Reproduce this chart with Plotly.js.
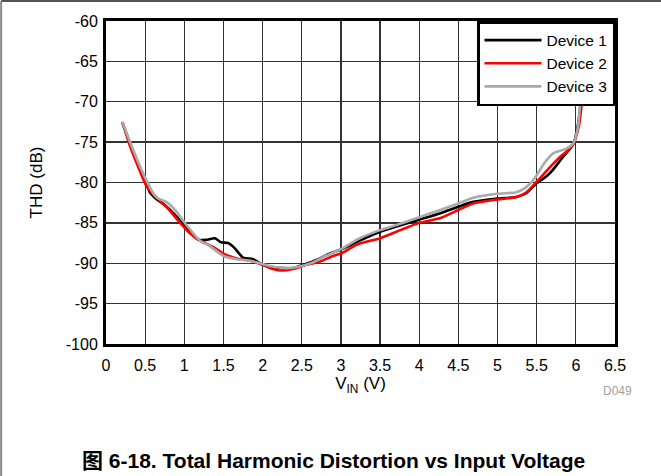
<!DOCTYPE html>
<html>
<head>
<meta charset="utf-8">
<script src="https://cdn.plot.ly/plotly-3.0.1.min.js"></script>
<style>
  html, body { margin: 0; padding: 0; background: #fff; }
  #chart { width: 661px; height: 476px; }
</style>
</head>
<body>
<div id="chart"></div>
<script>
// THD versus input voltage for three devices
const seriesNames = ['Device 1', 'Device 2', 'Device 3'];

const vin1 = [0.21, 0.3, 0.4, 0.5, 0.56, 0.64, 0.75, 0.9, 1.03, 1.18, 1.28, 1.39, 1.47, 1.56, 1.64, 1.75, 1.88, 2.0, 2.13, 2.26, 2.39, 2.52, 2.69, 2.86, 3.0, 3.24, 3.5, 3.76, 4.0, 4.27, 4.5, 4.69, 5.0, 5.24, 5.37, 5.5, 5.63, 5.71, 5.83, 5.91, 5.97, 6.03, 6.06, 6.1];
const thd1 = [-72.6, -75.0, -77.5, -79.7, -81.2, -82.0, -82.8, -84.2, -85.7, -87.1, -87.1, -86.9, -87.4, -87.5, -88.1, -89.3, -89.5, -90.2, -90.5, -90.6, -90.6, -90.2, -89.6, -88.8, -88.3, -87.2, -86.1, -85.3, -84.6, -83.8, -83.0, -82.4, -82.0, -81.8, -81.3, -80.1, -79.2, -78.4, -76.9, -76.0, -75.2, -72.7, -70.3, -66.0];

const vin2 = [0.21, 0.3, 0.4, 0.52, 0.64, 0.77, 0.92, 1.05, 1.2, 1.37, 1.5, 1.67, 1.84, 2.0, 2.13, 2.24, 2.39, 2.56, 2.73, 2.9, 3.0, 3.2, 3.5, 3.76, 4.0, 4.27, 4.5, 4.69, 5.0, 5.24, 5.37, 5.5, 5.67, 5.79, 5.9, 5.97, 6.04, 6.07, 6.11];
const thd2 = [-72.5, -75.3, -77.8, -80.5, -81.8, -83.0, -84.7, -86.1, -87.2, -88.0, -88.8, -89.4, -89.7, -90.2, -90.7, -90.9, -90.7, -90.2, -89.8, -89.1, -88.8, -87.7, -86.9, -85.9, -85.0, -84.4, -83.4, -82.6, -82.1, -81.8, -81.2, -79.9, -78.1, -76.9, -76.0, -75.2, -72.9, -70.7, -66.0];

const vin3 = [0.21, 0.3, 0.4, 0.5, 0.62, 0.67, 0.77, 0.9, 1.03, 1.2, 1.33, 1.5, 1.67, 1.84, 2.0, 2.13, 2.3, 2.47, 2.64, 2.8, 2.99, 3.24, 3.5, 3.76, 4.0, 4.27, 4.5, 4.69, 5.0, 5.24, 5.35, 5.44, 5.5, 5.59, 5.71, 5.88, 5.97, 6.03, 6.05, 6.09];
const thd3 = [-72.5, -74.8, -77.2, -79.4, -81.6, -82.0, -82.4, -83.6, -85.3, -87.2, -87.9, -89.1, -89.5, -89.7, -90.1, -90.4, -90.6, -90.4, -89.9, -89.1, -88.3, -86.9, -85.9, -85.1, -84.3, -83.4, -82.6, -81.9, -81.4, -81.2, -80.7, -79.9, -79.1, -77.7, -76.4, -75.8, -75.1, -72.9, -70.7, -66.0];

const xTickVals = [0, 0.5, 1, 1.5, 2, 2.5, 3, 3.5, 4, 4.5, 5, 5.5, 6, 6.5];
const xTickText = ['0', '0.5', '1', '1.5', '2', '2.5', '3', '3.5', '4', '4.5', '5', '5.5', '6', '6.5'];
const yTickVals = [-100, -95, -90, -85, -80, -75, -70, -65, -60];
const yTickText = ['-100', '-95', '-90', '-85', '-80', '-75', '-70', '-65', '-60'];

const colors = ['#000000', '#ff0000', '#aaaaaa'];
const xs = [vin1, vin2, vin3];
const ys = [thd1, thd2, thd3];

const FONT = 'Liberation Sans, Arial, sans-serif';

const traces = seriesNames.map((name, i) => ({
  type: 'scatter',
  mode: 'lines',
  name: name,
  x: xs[i],
  y: ys[i],
  line: { color: colors[i], width: 2.6, shape: 'spline', smoothing: 0.6 }
}));

const gridColor = '#333333';

const layout = {
  width: 661,
  height: 476,
  margin: { l: 106, r: 46, t: 21, b: 132 },
  paper_bgcolor: '#ffffff',
  plot_bgcolor: '#ffffff',
  showlegend: true,
  font: { family: FONT, size: 16, color: '#000' },
  xaxis: {
    range: [0, 6.5],
    tickmode: 'array',
    tickvals: xTickVals,
    ticktext: xTickText,
    showgrid: true,
    gridcolor: gridColor,
    gridwidth: 1.3,
    zeroline: false,
    showline: true,
    linecolor: '#000',
    linewidth: 3,
    mirror: true,
    ticks: '',
    ticklabelstandoff: 5,
    tickfont: { family: FONT, size: 16, color: '#000' },
    title: { text: 'V<sub>IN</sub> (V)', font: { family: FONT, size: 17, color: '#000' }, standoff: 0 }
  },
  yaxis: {
    range: [-100, -60],
    tickmode: 'array',
    tickvals: yTickVals,
    ticktext: yTickText,
    showgrid: true,
    gridcolor: gridColor,
    gridwidth: 1.3,
    zeroline: false,
    showline: true,
    linecolor: '#000',
    linewidth: 3,
    mirror: true,
    ticks: '',
    ticklabelstandoff: 2,
    tickfont: { family: FONT, size: 16, color: '#000' },
    title: { text: 'THD (dB)', font: { family: FONT, size: 17, color: '#000' }, standoff: 19 }
  },
  legend: {
    x: 1, xanchor: 'right',
    y: 1, yanchor: 'top',
    bgcolor: '#ffffff',
    bordercolor: '#000000',
    borderwidth: 2.5,
    font: { family: FONT, size: 15.5, color: '#000' },
    itemwidth: 57,
    tracegroupgap: 0
  },
  annotations: [
    {
      xref: 'paper', yref: 'paper',
      x: 1.005, y: -0.145, xanchor: 'center', yanchor: 'middle',
      text: 'D049', showarrow: false,
      font: { family: FONT, size: 12, color: '#a0a0a0' }
    },
    {
      xref: 'paper', yref: 'paper',
      x: 0.447, y: -0.36, xanchor: 'center', yanchor: 'middle',
      text: '<b>图 6-18. Total Harmonic Distortion vs Input Voltage</b>', showarrow: false,
      font: { family: 'Liberation Sans, Arial, Noto Sans CJK SC, sans-serif', size: 21, color: '#000' }
    }
  ],
  shapes: [
    // outer frame: top and left edges of the figure
    { type: 'line', xref: 'paper', yref: 'paper', x0: -0.206, x1: 1.1, y0: 1.062, y1: 1.062,
      line: { color: '#555555', width: 2 } },
    { type: 'line', xref: 'paper', yref: 'paper', x0: -0.206, x1: -0.206, y0: 1.062, y1: -0.42,
      line: { color: '#888888', width: 2 } }
  ]
};

Plotly.newPlot('chart', traces, layout, { displayModeBar: false, staticPlot: true });
</script>
</body>
</html>
